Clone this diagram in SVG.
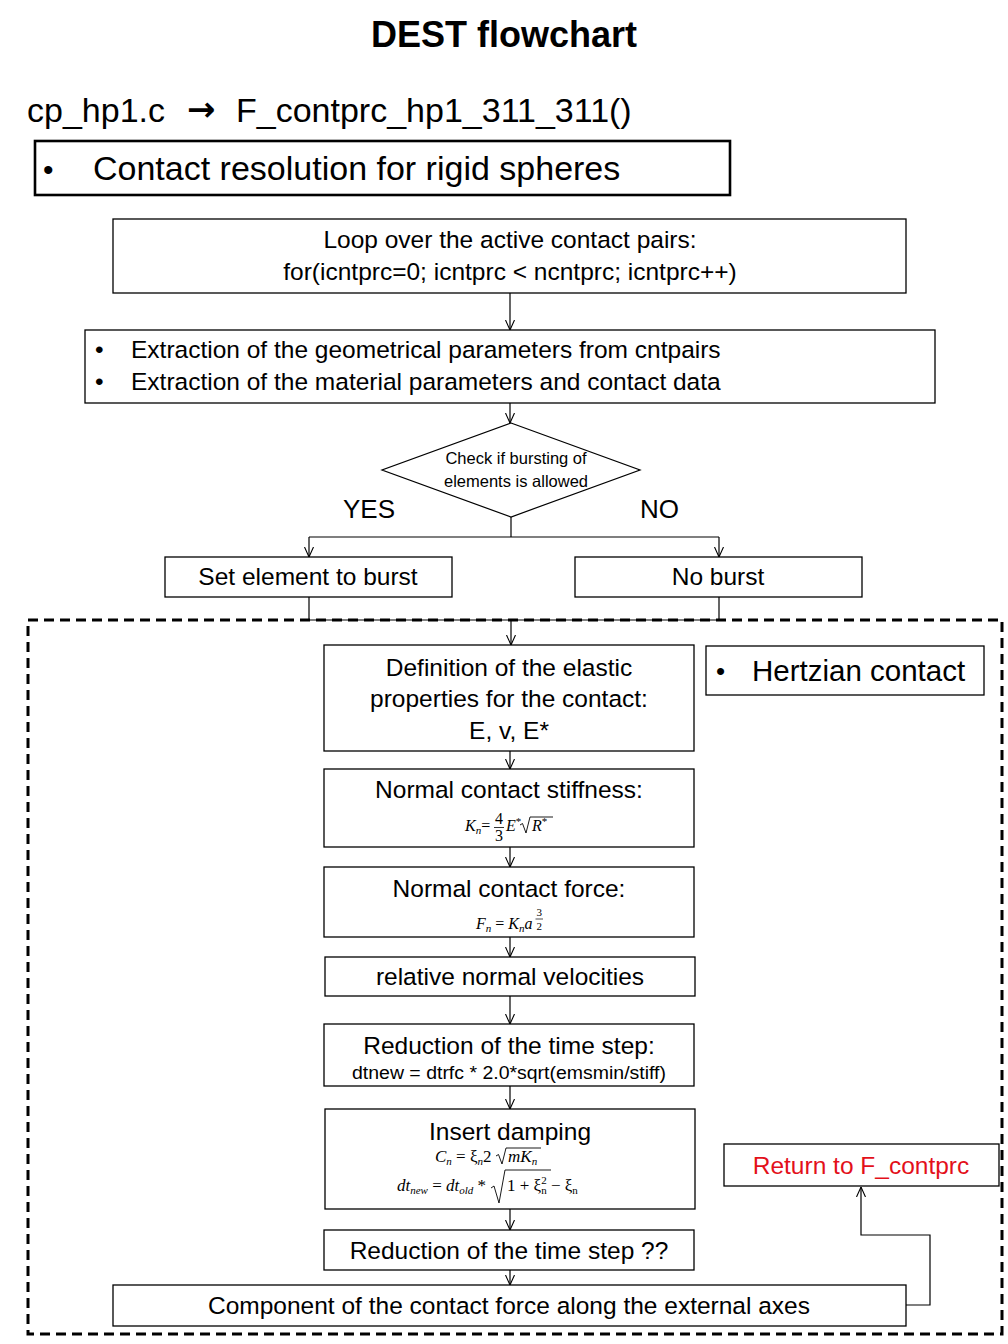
<svg xmlns="http://www.w3.org/2000/svg" width="1008" height="1344" viewBox="0 0 1008 1344">
<defs>
<style>
text{font-family:'Liberation Sans',Arial,sans-serif;fill:#000}
.box{fill:#fff;stroke:#000;stroke-width:1.3}
.b{font-size:24.5px}
.c{text-anchor:middle}
.m{font-family:'Liberation Serif','DejaVu Serif',serif;font-style:italic;font-size:16px}
.m17{font-size:17px}
.n{font-style:normal}
.sub{font-size:11px}
.rad{fill:none;stroke:#000;stroke-width:0.9}
.con{fill:none;stroke:#000;stroke-width:1.2}
.arr{marker-end:url(#ah)}
</style>
<marker id="ah" viewBox="0 0 10 10" refX="10" refY="5" markerWidth="10" markerHeight="10" markerUnits="userSpaceOnUse" orient="auto">
<path d="M0,0.5 L10,5 L0,9.5" fill="none" stroke="#000" stroke-width="1.1"/>
</marker>
</defs>
<rect width="1008" height="1344" fill="#fff"/>

<g id="title">
<text x="504" y="47" class="c" font-size="36" font-weight="bold">DEST flowchart</text>
</g>
<g id="header">
<text x="27" y="122" font-size="34">cp_hp1.c</text>
<text x="187" y="121" font-size="34" font-weight="bold" style="font-family:'DejaVu Sans',sans-serif">→</text>
<text x="236" y="122" font-size="34">F_contprc_hp1_311_311()</text>
</g>
<g id="scope">
<rect x="35" y="141" width="695" height="54" fill="#fff" stroke="#000" stroke-width="2.6"/>
<text x="43" y="180" font-size="30">•</text>
<text x="93" y="180" font-size="34">Contact resolution for rigid spheres</text>
</g>

<g id="frame">
<rect x="28" y="620" width="974" height="714" fill="none" stroke="#000" stroke-width="3" stroke-dasharray="10,6"/>
</g>

<g id="connectors">
<path class="con arr" d="M510,293 V330"/>
<path class="con arr" d="M510,403 V423"/>
<path class="con" d="M511,517 V537"/>
<path class="con" d="M309,537 H719"/>
<path class="con arr" d="M309,537 V557"/>
<path class="con arr" d="M719,537 V557"/>
<path class="con" d="M309,597 V620 H719 V597"/>
<path class="con arr" d="M511,620 V645"/>
<path class="con arr" d="M510,751 V769"/>
<path class="con arr" d="M510,847 V867"/>
<path class="con arr" d="M510,937 V957"/>
<path class="con arr" d="M510,996 V1024"/>
<path class="con arr" d="M510,1086 V1109"/>
<path class="con arr" d="M510,1209 V1230"/>
<path class="con arr" d="M510,1270 V1285"/>
<path class="con arr" d="M906,1305 H930 V1235 H861 V1187"/>
</g>

<g id="loop">
<rect class="box" x="113" y="219" width="793" height="74"/>
<text class="b c" x="510" y="248">Loop over the active contact pairs:</text>
<text class="b c" x="510" y="280">for(icntprc=0; icntprc &lt; ncntprc; icntprc++)</text>
</g>

<g id="extract">
<rect class="box" x="85" y="330" width="850" height="73"/>
<text class="b" x="95" y="358">•</text>
<text class="b" x="131" y="358">Extraction of the geometrical parameters from cntpairs</text>
<text class="b" x="95" y="390">•</text>
<text class="b" x="131" y="390">Extraction of the material parameters and contact data</text>
</g>

<g id="decision">
<polygon points="511,423 640,470 511,517 382,470" fill="#fff" stroke="#000" stroke-width="1.2"/>
<text class="c" x="516" y="464" font-size="16.5">Check if bursting of</text>
<text class="c" x="516" y="487" font-size="16.5">elements is allowed</text>
</g>
<g id="labels">
<text x="343" y="518" font-size="26">YES</text>
<text x="640" y="518" font-size="26">NO</text>
</g>

<g id="burst">
<rect class="box" x="165" y="557" width="287" height="40"/>
<text class="b c" x="308" y="585">Set element to burst</text>
</g>
<g id="noburst">
<rect class="box" x="575" y="557" width="287" height="40"/>
<text class="b c" x="718" y="585">No burst</text>
</g>

<g id="elastic">
<rect class="box" x="324" y="645" width="370" height="106"/>
<text class="b c" x="509" y="676">Definition of the elastic</text>
<text class="b c" x="509" y="707">properties for the contact:</text>
<text class="b c" x="509" y="739">E, v, E*</text>
</g>

<g id="hertz">
<rect class="box" x="706" y="646" width="278" height="49"/>
<text x="716" y="680" font-size="26">•</text>
<text x="752" y="681" font-size="29.5">Hertzian contact</text>
</g>

<g id="stiffness">
<rect class="box" x="324" y="769" width="370" height="78"/>
<text class="b c" x="509" y="798">Normal contact stiffness:</text>
<text class="m" x="465" y="831">K<tspan class="sub" dy="3">n</tspan><tspan class="n" dy="-3">=</tspan></text>
<text class="m n c" x="499" y="824" font-size="13">4<tspan x="499" dy="17">3</tspan></text>
<line x1="494" y1="827.5" x2="504" y2="827.5" stroke="#000" stroke-width="0.8"/>
<text class="m" x="506" y="831">E<tspan class="sub n" dy="-6">*</tspan></text>
<polyline class="rad" points="520,825 522.5,823.5 526,833 530,817 553,817"/>
<text class="m" x="532" y="831">R<tspan class="sub n" dy="-6">*</tspan></text>
</g>

<g id="force">
<rect class="box" x="324" y="867" width="370" height="70"/>
<text class="b c" x="509" y="897">Normal contact force:</text>
<text class="m" x="476" y="929">F<tspan class="sub" dy="3">n</tspan><tspan class="n" dy="-3"> = </tspan>K<tspan class="sub" dy="3">n</tspan><tspan dy="-3">a</tspan><tspan class="sub n" x="536.5" dy="-13.5">3</tspan><tspan class="sub n" x="536.5" dy="14">2</tspan></text>
<line x1="535.5" y1="919" x2="543" y2="919" stroke="#000" stroke-width="0.7"/>
</g>

<g id="velocities">
<rect class="box" x="325" y="957" width="370" height="39"/>
<text class="b c" x="510" y="985">relative normal velocities</text>
</g>

<g id="timestep">
<rect class="box" x="324" y="1024" width="370" height="62"/>
<text class="b c" x="509" y="1054">Reduction of the time step:</text>
<text class="c" x="509" y="1079" font-size="18" textLength="314" lengthAdjust="spacingAndGlyphs">dtnew = dtrfc * 2.0*sqrt(emsmin/stiff)</text>
</g>

<g id="damping">
<rect class="box" x="325" y="1109" width="370" height="100"/>
<text class="b c" x="510" y="1140">Insert damping</text>
<text class="m m17" x="435" y="1162">C<tspan class="sub" dy="3">n</tspan><tspan class="n" dy="-3"> =  ξ</tspan><tspan class="sub" dy="3">n</tspan><tspan class="n" dy="-3">2</tspan></text>
<polyline class="rad" points="496,1156 498.5,1154.5 502,1164 506,1148 541,1148"/>
<text class="m m17" x="508" y="1162">mK<tspan class="sub" dy="3">n</tspan></text>
<text class="m m17" x="397" y="1191">dt<tspan class="sub" dy="3">new</tspan><tspan class="n" dy="-3"> = </tspan>dt<tspan class="sub" dy="3">old</tspan><tspan class="n" dy="-3"> *</tspan></text>
<polyline class="rad" points="491,1188 494,1186 499,1203 505,1170 551,1170"/>
<text class="m m17 n" x="507" y="1191">1 + ξ<tspan class="sub" dy="3">n</tspan><tspan class="sub" dx="-5.5" dy="-10">2</tspan><tspan dy="7"> − ξ</tspan><tspan class="sub" dy="3">n</tspan></text>
</g>

<g id="timestep2">
<rect class="box" x="324" y="1230" width="370" height="40"/>
<text class="b c" x="509" y="1259">Reduction of the time step ??</text>
</g>

<g id="component">
<rect class="box" x="113" y="1285" width="793" height="41"/>
<text class="b c" x="509" y="1314">Component of the contact force along the external axes</text>
</g>

<g id="return">
<rect class="box" x="724" y="1144" width="275" height="42"/>
<text class="b c" x="861" y="1174" style="fill:#e3101a">Return to F_contprc</text>
</g>
</svg>
